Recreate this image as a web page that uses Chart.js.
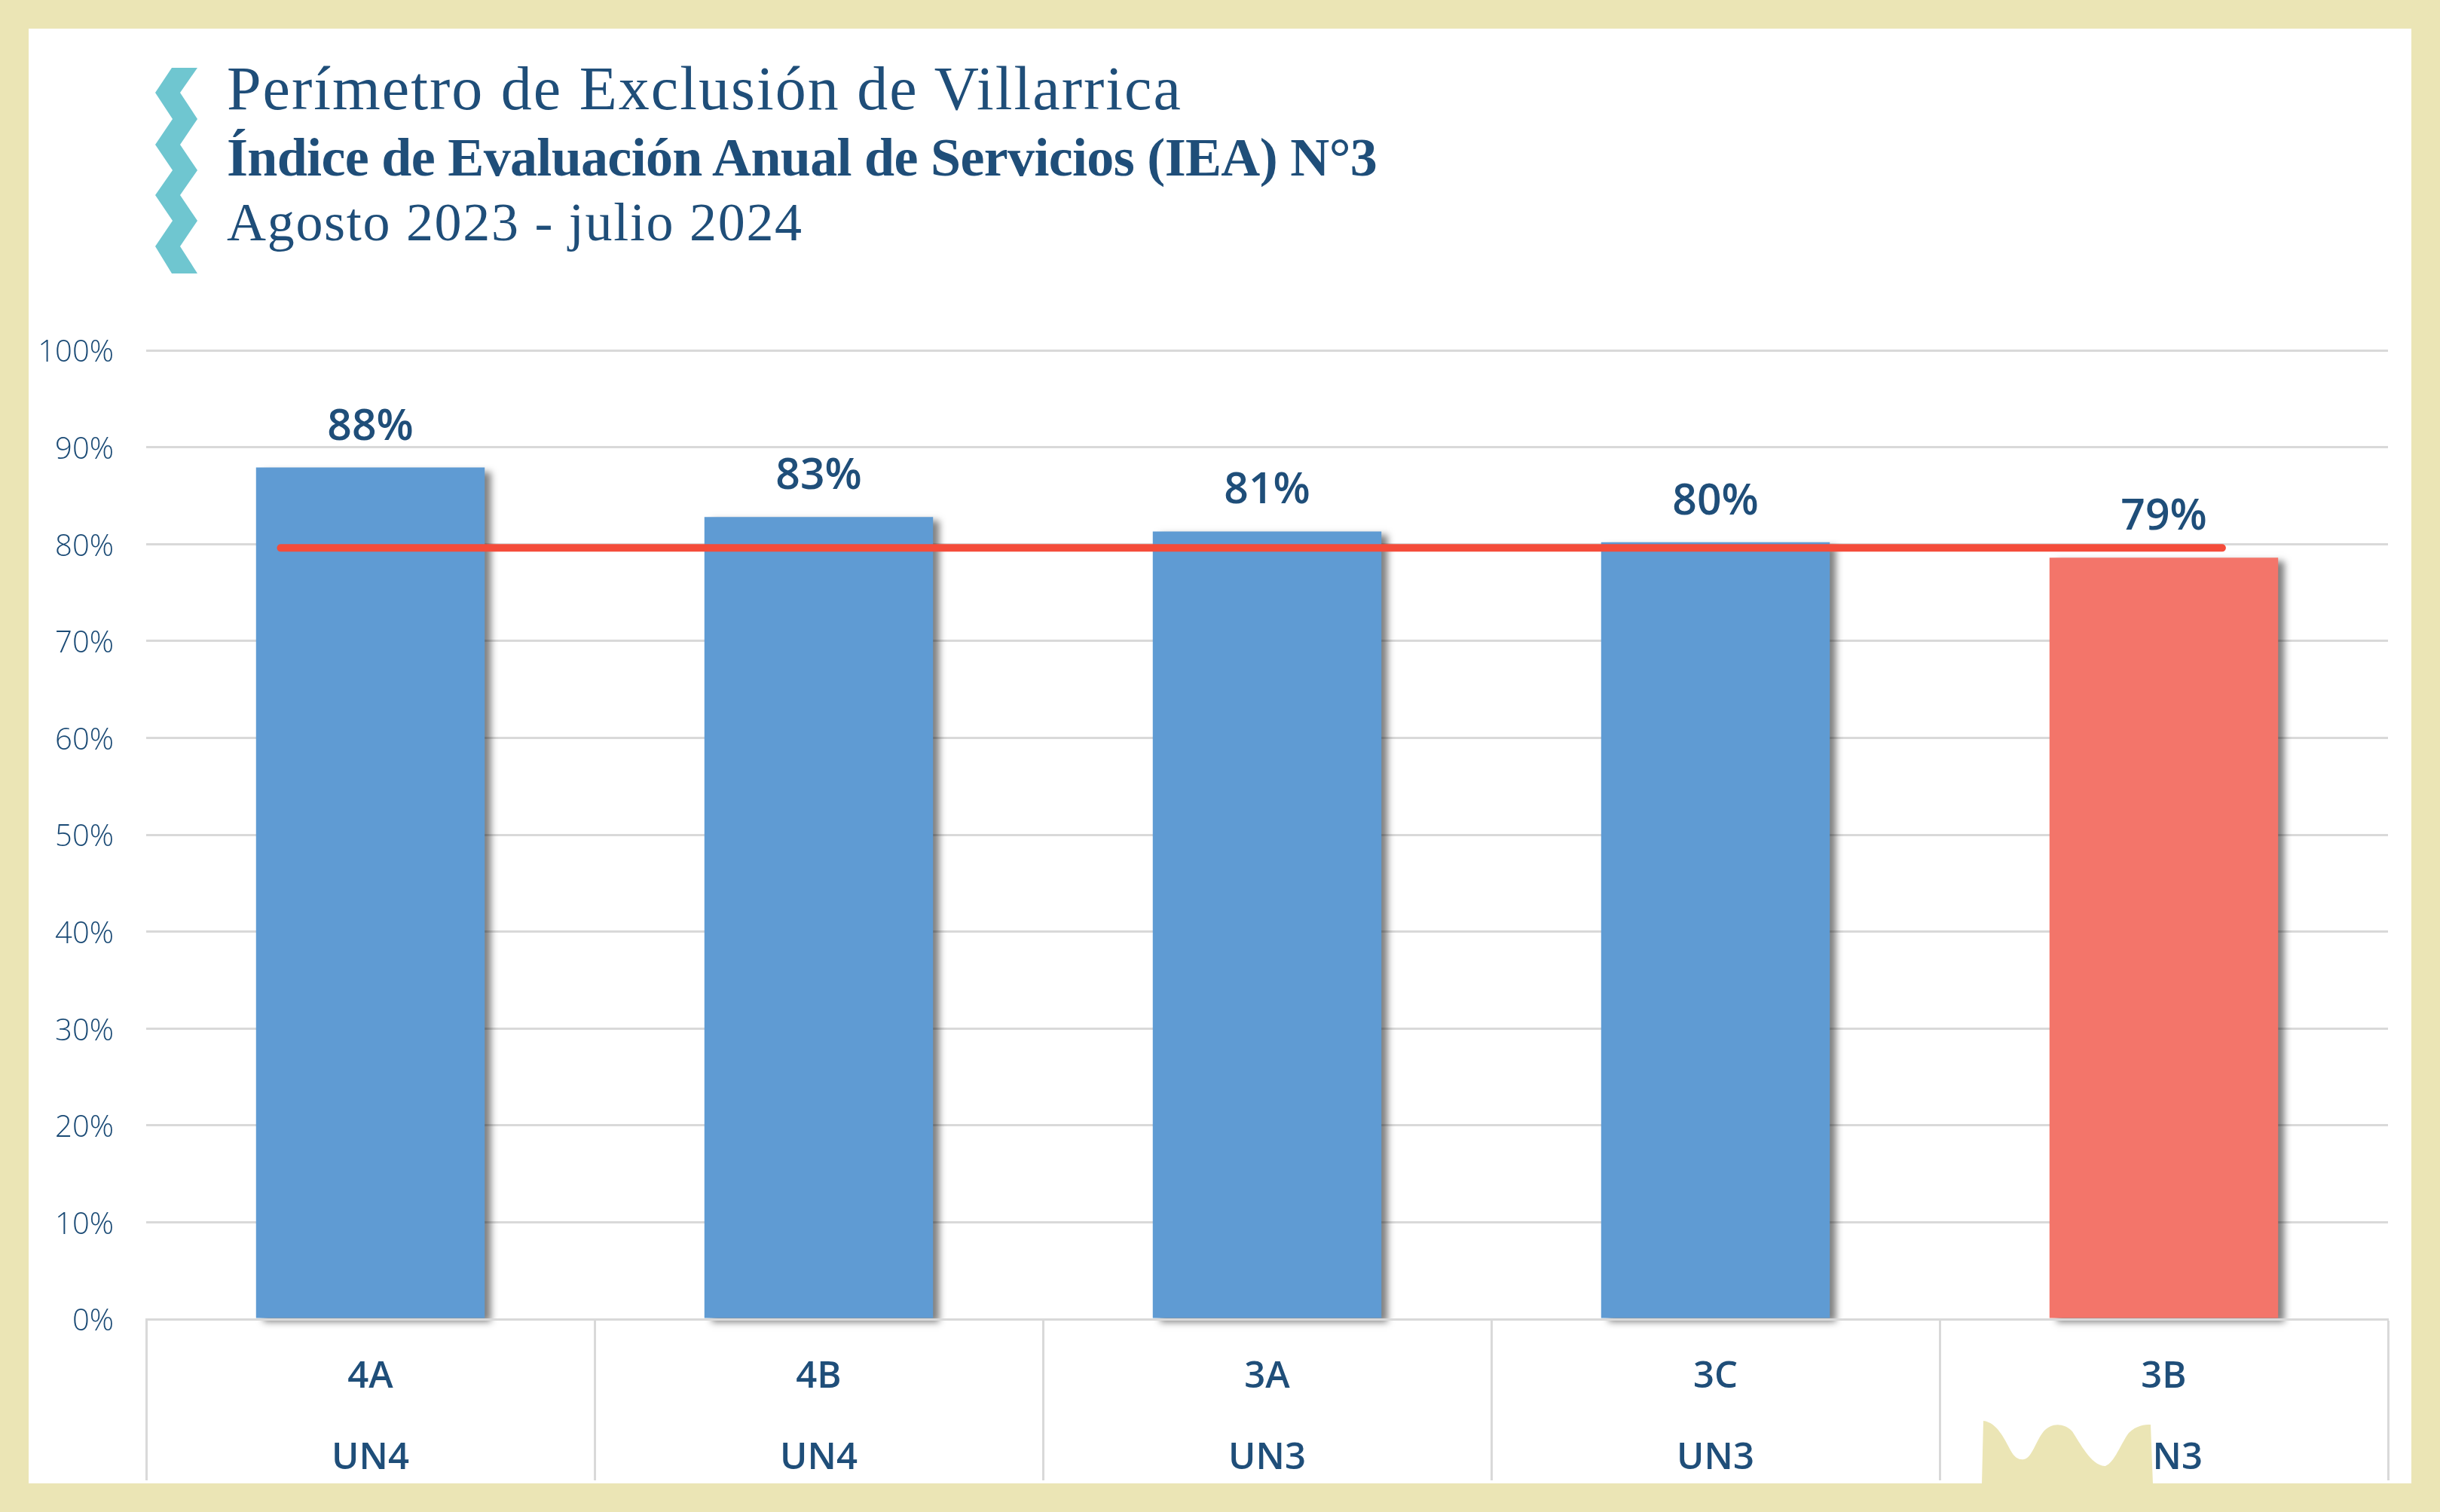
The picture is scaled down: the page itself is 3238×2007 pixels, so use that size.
<!DOCTYPE html>
<html lang="es">
<head>
<meta charset="utf-8">
<title>Índice de Evaluación Anual de Servicios</title>
<script src="https://cdn.jsdelivr.net/npm/chart.js@4"></script>
<style>
  html, body { margin: 0; padding: 0; background: #ebe5b5; }
  body { position: relative; width: 3238px; height: 2007px; overflow: hidden; }
  #panel { position: absolute; left: 38px; top: 38px; width: 3162px; height: 1931px; background: #fff; }
  #chart { position: absolute; left: 0; top: 0; }
  #deco { position: absolute; left: 0; top: 0; pointer-events: none; }
  .head { position: absolute; left: 301px; color: #1f4e79; font-family: "Liberation Serif", serif; white-space: nowrap; line-height: 1; }
</style>
</head>
<body>
<div id="panel"></div>
<canvas id="chart" width="3238" height="2007"></canvas>
<svg id="deco" width="3238" height="2007">
  <polygon fill="#6fc6d0" points="228,90 262,90 239,123 262,158 239,192 262,226 239,259 262,293 239,327 262,363 228,363 206,327 229,293 206,259 229,226 206,192 229,158 206,123"/>
  <path fill="#ebe5b5" d="M2622 1985 L2622 1972 L2630 1970 L2632 1886 C2650 1888 2660 1910 2668 1925 C2674 1936 2680 1938 2686 1937 C2696 1936 2702 1912 2712 1900 C2722 1889 2738 1888 2750 1900 C2760 1915 2775 1945 2793 1946 C2805 1944 2815 1915 2825 1902 C2835 1892 2846 1891 2854 1891 L2857 1970 L2862 1972 L2862 1985 Z"/>
</svg>
<div class="head" style="top:77px;font-size:82px;letter-spacing:2px;">Perímetro de Exclusión de Villarrica</div>
<div class="head" style="top:173px;font-size:72px;font-weight:700;letter-spacing:-0.67px;">Índice de Evaluación Anual de Servicios (IEA) N°3</div>
<div class="head" style="top:259px;font-size:72px;letter-spacing:1.7px;">Agosto 2023 - julio 2024</div>
<script>
const sectors = ['4A', '4B', '3A', '3C', '3B'];
const units = ['UN4', 'UN4', 'UN3', 'UN3', 'UN3'];
const scores = [87.9, 82.8, 81.3, 80.2, 78.6];
const yTicks = [0, 10, 20, 30, 40, 50, 60, 70, 80, 90, 100];
// la linea de referencia sobresale de los centros de las barras
const targetX = [-0.2, 4.13];
const targetY = [79.6, 79.6];

const BLUE = '#5f9bd3';
const SALMON = '#f3756a';
const NAVY = '#1f4e79';
const GRID = '#d9d9d9';

// sombra de las barras, solo para el dataset 0
const barShadow = {
  id: 'barShadow',
  beforeDatasetDraw(chart, args) {
    if (args.index !== 0) return;
    const ctx = chart.ctx;
    ctx.save();
    ctx.shadowColor = 'rgba(0,0,0,0.5)';
    ctx.shadowOffsetX = 9;
    ctx.shadowOffsetY = 5;
    ctx.shadowBlur = 9;
  },
  afterDatasetDraw(chart, args) {
    if (args.index === 0) chart.ctx.restore();
  }
};

const valueLabels = {
  id: 'valueLabels',
  afterDatasetsDraw(chart) {
    const ctx = chart.ctx;
    ctx.save();
    ctx.font = '600 57px "Open Sans"';
    ctx.fillStyle = NAVY;
    ctx.textAlign = 'center';
    ctx.textBaseline = 'alphabetic';
    chart.getDatasetMeta(0).data.forEach((bar, i) => {
      ctx.fillText(Math.round(scores[i]) + '%', bar.x, bar.y - 37);
    });
    ctx.restore();
  }
};

new Chart(document.getElementById('chart'), {
  type: 'bar',
  data: {
    labels: sectors.map((s, i) => [s, units[i]]),
    datasets: [
      {
        data: scores,
        backgroundColor: scores.map(v => v < targetY[0] ? SALMON : BLUE),
        barPercentage: 1,
        categoryPercentage: 0.51,
        grouped: false,
        clip: false,
        order: 2
      },
      {
        type: 'line',
        data: targetX.map((x, i) => ({ x, y: targetY[i] })),
        xAxisID: 'xLine',
        borderColor: '#f44c3a',
        borderWidth: 10,
        borderCapStyle: 'round',
        pointRadius: 0,
        order: 1
      }
    ]
  },
  options: {
    responsive: false,
    devicePixelRatio: 1,
    animation: false,
    layout: { padding: { left: 0, top: 465, right: 69, bottom: 42 } },
    plugins: { legend: { display: false }, tooltip: { enabled: false } },
    scales: {
      x: {
        afterFit(s) { s.height = 214; },
        grid: { drawOnChartArea: false, tickColor: GRID, tickWidth: 3, tickLength: 214 },
        border: { color: GRID, width: 3, z: 1 },
        ticks: {
          color: NAVY,
          padding: -191,
          maxRotation: 0,
          font: { family: '"Open Sans"', size: 49, weight: '600', lineHeight: 2.2 }
        }
      },
      xLine: { type: 'linear', display: false, offset: false, min: -0.5, max: 4.5 },
      y: {
        min: 0,
        max: 100,
        afterFit(s) { s.width = 194; },
        afterBuildTicks(s) { s.ticks = yTicks.map(value => ({ value })); },
        grid: { color: GRID, lineWidth: 3, drawTicks: false },
        border: { display: false },
        ticks: {
          color: '#1a4a75',
          padding: 43,
          labelOffset: 4,
          callback: v => v + '%',
          font: { family: '"Open Sans"', size: 40, weight: '300' }
        }
      }
    }
  },
  plugins: [barShadow, valueLabels]
});
</script>
</body>
</html>
